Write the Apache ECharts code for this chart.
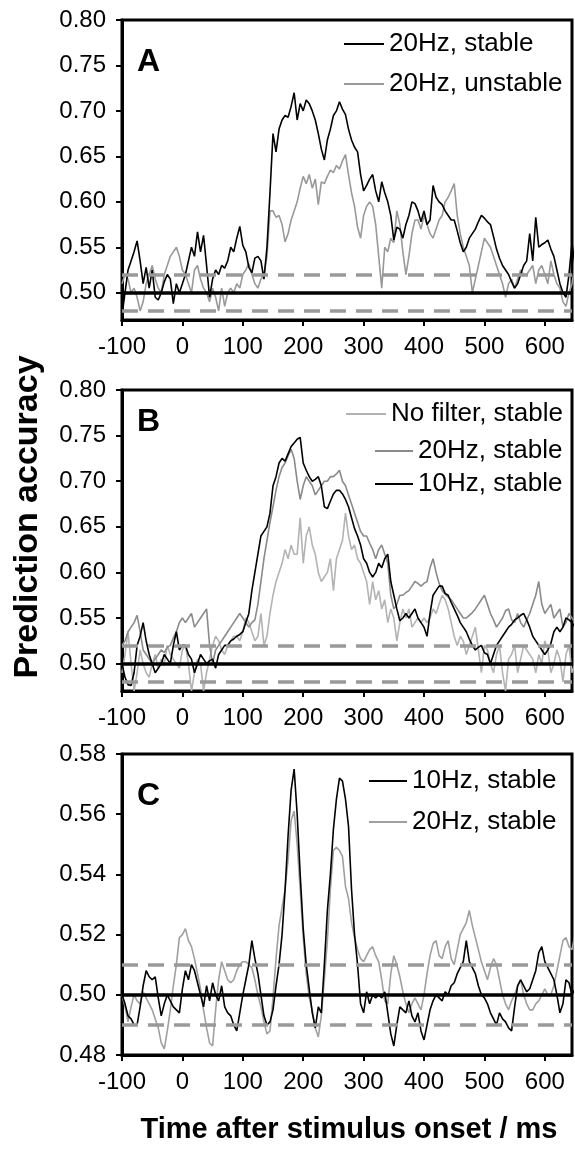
<!DOCTYPE html>
<html>
<head>
<meta charset="utf-8">
<script src="https://cdn.jsdelivr.net/npm/echarts@6/dist/echarts.min.js"></script>
<style>
html,body{margin:0;padding:0;background:#fff;}
#chart{width:575px;height:1153px;}
</style>
</head>
<body>
<div id="chart"></div>
<script>
// time axis (ms after stimulus onset)
var times = [-100,-95,-90,-85,-80,-75,-70,-65,-60,-55,-50,-45,-40,-35,-30,-25,-20,-15,-10,-5,
0,5,10,15,20,25,30,35,40,45,50,55,60,65,70,75,80,85,90,95,
100,105,110,115,120,125,130,135,140,145,150,155,160,165,170,175,180,185,190,195,
200,205,210,215,220,225,230,235,240,245,250,255,260,265,270,275,280,285,290,295,
300,305,310,315,320,325,330,335,340,345,350,355,360,365,370,375,380,385,390,395,
400,405,410,415,420,425,430,435,440,445,450,455,460,465,470,475,480,485,490,495,
500,505,510,515,520,525,530,535,540,545,550,555,560,565,570,575,580,585,590,595,
600,605,610,615,620,625,630,635,640,645,650];

// Panel A
var A_20Hz_stable = [0.475,0.50,0.525,0.535,0.545,0.557,0.535,0.51,0.528,0.505,
0.525,0.495,0.492,0.50,0.512,0.52,0.515,0.488,0.51,0.50,
0.51,0.52,0.535,0.55,0.54,0.567,0.545,0.563,0.53,0.495,
0.515,0.525,0.52,0.53,0.527,0.535,0.55,0.545,0.56,0.573,
0.552,0.545,0.528,0.522,0.538,0.54,0.535,0.515,0.55,0.61,
0.675,0.655,0.68,0.69,0.695,0.693,0.705,0.72,0.69,0.708,
0.70,0.712,0.708,0.70,0.69,0.675,0.658,0.646,0.668,0.68,
0.695,0.70,0.71,0.702,0.696,0.68,0.668,0.66,0.655,0.63,
0.612,0.618,0.625,0.63,0.612,0.60,0.622,0.61,0.60,0.585,
0.558,0.572,0.57,0.56,0.575,0.585,0.60,0.598,0.59,0.578,
0.59,0.575,0.58,0.618,0.605,0.60,0.597,0.59,0.585,0.58,
0.58,0.568,0.555,0.545,0.55,0.56,0.565,0.57,0.578,0.585,
0.582,0.578,0.575,0.562,0.548,0.538,0.53,0.525,0.52,0.512,
0.505,0.51,0.52,0.53,0.535,0.565,0.535,0.583,0.55,0.553,
0.555,0.558,0.548,0.54,0.525,0.51,0.50,0.495,0.52,0.555,
0.53];
var A_20Hz_unstable = [0.51,0.52,0.515,0.50,0.505,0.495,0.48,0.49,0.51,0.52,
0.53,0.515,0.505,0.50,0.52,0.53,0.54,0.545,0.55,0.54,
0.525,0.52,0.51,0.50,0.525,0.53,0.515,0.505,0.50,0.49,
0.505,0.495,0.48,0.505,0.485,0.50,0.505,0.50,0.51,0.505,
0.52,0.525,0.532,0.52,0.51,0.505,0.515,0.52,0.54,0.59,
0.59,0.583,0.585,0.575,0.556,0.565,0.58,0.59,0.60,0.615,
0.628,0.62,0.63,0.615,0.625,0.597,0.622,0.62,0.628,0.635,
0.632,0.64,0.636,0.645,0.652,0.63,0.61,0.595,0.572,0.56,
0.585,0.595,0.60,0.595,0.575,0.54,0.505,0.55,0.545,0.56,
0.555,0.59,0.575,0.545,0.52,0.54,0.565,0.58,0.58,0.57,
0.585,0.575,0.565,0.56,0.57,0.58,0.585,0.60,0.605,0.612,
0.62,0.585,0.565,0.55,0.54,0.53,0.50,0.515,0.53,0.545,
0.56,0.555,0.55,0.54,0.53,0.52,0.51,0.495,0.51,0.515,
0.505,0.515,0.525,0.52,0.52,0.525,0.53,0.51,0.525,0.53,
0.52,0.51,0.535,0.52,0.51,0.505,0.49,0.485,0.50,0.51,
0.53];

// Panel B
var B_nofilter_stable = [0.49,0.51,0.535,0.50,0.47,0.49,0.515,0.50,0.49,0.485,
0.50,0.51,0.495,0.505,0.50,0.52,0.51,0.505,0.50,0.495,
0.515,0.52,0.50,0.47,0.49,0.505,0.50,0.47,0.49,0.505,
0.52,0.53,0.525,0.515,0.51,0.52,0.525,0.53,0.53,0.525,
0.535,0.55,0.545,0.535,0.525,0.53,0.555,0.52,0.53,0.555,
0.575,0.59,0.60,0.61,0.625,0.615,0.63,0.62,0.62,0.66,
0.61,0.64,0.65,0.63,0.62,0.60,0.59,0.595,0.60,0.615,
0.58,0.615,0.625,0.635,0.665,0.64,0.625,0.63,0.615,0.61,
0.60,0.59,0.565,0.59,0.57,0.58,0.56,0.57,0.545,0.56,
0.55,0.525,0.545,0.56,0.55,0.56,0.54,0.545,0.55,0.545,
0.55,0.545,0.55,0.56,0.555,0.565,0.575,0.57,0.56,0.545,
0.53,0.52,0.53,0.525,0.51,0.52,0.53,0.54,0.515,0.49,
0.52,0.515,0.50,0.49,0.51,0.52,0.49,0.47,0.505,0.51,
0.52,0.49,0.505,0.52,0.515,0.51,0.505,0.49,0.51,0.50,
0.525,0.515,0.49,0.50,0.515,0.505,0.48,0.51,0.52,0.49,
0.50];
var B_20Hz_stable = [0.52,0.525,0.535,0.54,0.545,0.553,0.535,0.515,0.51,0.505,
0.50,0.505,0.51,0.515,0.512,0.518,0.52,0.528,0.535,0.545,
0.55,0.545,0.55,0.555,0.54,0.545,0.55,0.555,0.56,0.52,
0.50,0.515,0.52,0.525,0.53,0.535,0.54,0.545,0.55,0.555,
0.55,0.545,0.54,0.545,0.548,0.565,0.59,0.615,0.635,0.655,
0.672,0.69,0.705,0.715,0.72,0.728,0.735,0.725,0.70,0.68,
0.695,0.705,0.70,0.695,0.685,0.69,0.695,0.70,0.70,0.705,
0.705,0.708,0.712,0.70,0.695,0.685,0.675,0.665,0.655,0.645,
0.64,0.64,0.632,0.625,0.615,0.625,0.63,0.62,0.61,0.575,
0.56,0.565,0.575,0.575,0.578,0.58,0.585,0.59,0.588,0.585,
0.588,0.59,0.605,0.615,0.60,0.588,0.58,0.576,0.573,0.57,
0.565,0.56,0.555,0.55,0.55,0.553,0.556,0.56,0.565,0.57,
0.575,0.565,0.555,0.548,0.54,0.545,0.55,0.558,0.56,0.548,
0.545,0.555,0.545,0.54,0.548,0.555,0.565,0.575,0.59,0.565,
0.555,0.56,0.565,0.55,0.555,0.56,0.54,0.545,0.555,0.55,
0.545];
var B_10Hz_stable = [0.50,0.485,0.477,0.476,0.49,0.52,0.53,0.545,0.525,0.51,
0.50,0.49,0.495,0.50,0.51,0.505,0.50,0.52,0.535,0.515,
0.52,0.52,0.51,0.505,0.49,0.50,0.51,0.505,0.50,0.503,
0.505,0.495,0.51,0.515,0.52,0.52,0.525,0.527,0.53,0.532,
0.535,0.545,0.555,0.58,0.60,0.62,0.64,0.645,0.65,0.665,
0.695,0.705,0.72,0.725,0.722,0.73,0.738,0.742,0.746,0.748,
0.72,0.712,0.705,0.70,0.702,0.705,0.695,0.672,0.67,0.678,
0.686,0.69,0.69,0.686,0.68,0.672,0.66,0.648,0.64,0.63,
0.615,0.61,0.60,0.595,0.60,0.61,0.605,0.615,0.62,0.59,
0.575,0.56,0.547,0.55,0.555,0.55,0.555,0.56,0.55,0.545,
0.54,0.53,0.555,0.575,0.58,0.585,0.585,0.577,0.575,0.567,
0.56,0.553,0.545,0.54,0.535,0.527,0.52,0.515,0.518,0.52,
0.512,0.51,0.50,0.51,0.52,0.525,0.53,0.535,0.54,0.543,
0.548,0.55,0.553,0.555,0.548,0.54,0.53,0.525,0.52,0.515,
0.51,0.515,0.522,0.535,0.54,0.535,0.54,0.55,0.548,0.545,
0.54];

// Panel C
var C_10Hz_stable = [0.500,0.497,0.493,0.492,0.490,0.490,0.496,0.503,0.508,0.506,
0.505,0.506,0.499,0.493,0.497,0.500,0.498,0.496,0.495,0.494,
0.502,0.508,0.505,0.510,0.508,0.504,0.500,0.496,0.503,0.498,
0.504,0.500,0.498,0.503,0.496,0.494,0.493,0.490,0.488,0.494,
0.500,0.505,0.510,0.518,0.512,0.507,0.500,0.493,0.490,0.491,
0.495,0.503,0.510,0.520,0.535,0.553,0.568,0.575,0.560,0.540,
0.522,0.510,0.502,0.494,0.489,0.496,0.494,0.510,0.528,0.540,
0.555,0.565,0.572,0.571,0.565,0.556,0.535,0.520,0.510,0.497,
0.494,0.501,0.497,0.500,0.499,0.500,0.499,0.501,0.494,0.487,
0.483,0.490,0.496,0.495,0.494,0.498,0.493,0.491,0.494,0.488,
0.485,0.490,0.495,0.498,0.500,0.499,0.498,0.501,0.500,0.503,
0.504,0.507,0.509,0.511,0.518,0.511,0.509,0.507,0.503,0.500,
0.499,0.497,0.494,0.492,0.490,0.494,0.492,0.491,0.489,0.488,
0.496,0.503,0.505,0.503,0.501,0.502,0.505,0.508,0.514,0.516,
0.511,0.509,0.507,0.505,0.500,0.494,0.497,0.505,0.504,0.500,
0.502];
var C_20Hz_stable = [0.500,0.496,0.491,0.496,0.500,0.498,0.497,0.501,0.499,0.497,
0.495,0.492,0.489,0.484,0.482,0.488,0.495,0.503,0.510,0.519,
0.520,0.522,0.518,0.516,0.512,0.507,0.502,0.495,0.489,0.484,
0.483,0.495,0.505,0.511,0.508,0.505,0.504,0.505,0.508,0.510,
0.511,0.511,0.510,0.509,0.505,0.500,0.496,0.491,0.487,0.488,
0.499,0.512,0.523,0.529,0.535,0.545,0.558,0.561,0.550,0.535,
0.519,0.507,0.499,0.495,0.489,0.486,0.493,0.505,0.518,0.535,
0.548,0.549,0.548,0.546,0.536,0.532,0.524,0.519,0.515,0.512,
0.511,0.513,0.515,0.516,0.513,0.511,0.505,0.498,0.497,0.507,
0.513,0.510,0.506,0.501,0.497,0.494,0.497,0.499,0.497,0.495,
0.500,0.507,0.513,0.517,0.518,0.513,0.512,0.516,0.518,0.512,
0.510,0.515,0.520,0.522,0.524,0.528,0.523,0.519,0.515,0.511,
0.508,0.505,0.509,0.512,0.510,0.505,0.500,0.497,0.495,0.498,
0.500,0.503,0.505,0.500,0.497,0.495,0.495,0.497,0.498,0.500,
0.502,0.500,0.500,0.503,0.508,0.513,0.518,0.519,0.516,0.515,
0.520];

// reference levels
var chanceLevel = 0.5;
var thresholdsAB = [0.52, 0.48];
var thresholdsC = [0.51, 0.49];
var yTicksAB = [0.50, 0.55, 0.60, 0.65, 0.70, 0.75, 0.80];

function pairs(vals) {
  return times.map(function (t, i) { return [t, vals[i]]; });
}

var FONT = '"Liberation Sans", Arial, Helvetica, sans-serif';
var GRID_LEFT = 122, GRID_W = 450;
var grids = [
  {left: GRID_LEFT, top: 20, width: GRID_W, height: 300},
  {left: GRID_LEFT, top: 390, width: GRID_W, height: 301},
  {left: GRID_LEFT, top: 754, width: GRID_W, height: 301}
].map(function (g) {
  g.show = true; g.borderColor = '#000'; g.borderWidth = 3; g.containLabel = false;
  return g;
});

function xAxisFor(i) {
  return {
    gridIndex: i, type: 'value', min: -100, max: 645, interval: 100,
    axisLine: {show: true, onZero: false, lineStyle: {color: '#000', width: 3}},
    axisTick: {show: true, inside: false, length: 6, lineStyle: {color: '#000', width: 2}},
    axisLabel: {color: '#000', fontSize: 24, fontFamily: FONT, margin: 15, showMaxLabel: false},
    splitLine: {show: false}
  };
}
function yAxisFor(i, min, max, ticks) {
  return {
    gridIndex: i, type: 'value', min: min, max: max,
    axisLine: {show: true, onZero: false, lineStyle: {color: '#000', width: 3}},
    axisTick: {show: true, inside: false, length: 6, lineStyle: {color: '#000', width: 2}, customValues: ticks},
    axisLabel: {color: '#000', fontSize: 24, fontFamily: FONT, margin: 16, customValues: ticks,
      formatter: function (v) { return v.toFixed(2); }},
    splitLine: {show: false}
  };
}

function refLines(th) {
  return {
    silent: true, symbol: 'none', animation: false,
    label: {show: false},
    data: [
      {yAxis: chanceLevel, lineStyle: {color: '#000', width: 3.5, type: 'solid'}},
      {yAxis: th[0], lineStyle: {color: '#999', width: 3.5, type: [16, 10]}},
      {yAxis: th[1], lineStyle: {color: '#999', width: 3.5, type: [16, 10]}}
    ]
  };
}

function lineSeries(name, idx, vals, color, ml) {
  var s = {
    name: name, type: 'line', xAxisIndex: idx, yAxisIndex: idx,
    data: pairs(vals), symbol: 'none', showSymbol: false,
    lineStyle: {color: color, width: 1.6}, itemStyle: {color: color},
    clip: true, animation: false
  };
  if (ml) s.markLine = ml;
  return s;
}

function leg(name, left, cy, w) {
  return {
    orient: 'vertical', selectedMode: false, icon: 'rect',
    itemWidth: w, itemHeight: 1.8, itemGap: 6, padding: 0,
    textStyle: {color: '#000', fontSize: 26, fontFamily: FONT},
    formatter: function (n) { return n.split('|')[1]; },
    data: [name], left: left, top: cy - 14
  };
}

var titleStyle = {fontSize: 32, fontWeight: 'bold', color: '#000', fontFamily: FONT};

var option = {
  backgroundColor: '#fff',
  animation: false,
  grid: grids,
  xAxis: [xAxisFor(0), xAxisFor(1), xAxisFor(2)],
  yAxis: [
    yAxisFor(0, 0.47, 0.80, yTicksAB),
    yAxisFor(1, 0.47, 0.80, yTicksAB),
    Object.assign(yAxisFor(2, 0.48, 0.58, undefined), {interval: 0.02})
  ],
  legend: [
    leg('A|20Hz, stable', 344, 45, 40),
    leg('A|20Hz, unstable', 344, 85, 40),
    leg('B|No filter, stable', 346, 415, 40),
    leg('B|20Hz, stable', 375, 452, 38),
    leg('B|10Hz, stable', 375, 485, 38),
    leg('C|10Hz, stable', 369, 782, 38),
    leg('C|20Hz, stable', 369, 823, 38)
  ],
  title: [
    {text: 'A', left: 137, top: 46, padding: 0, textStyle: titleStyle},
    {text: 'B', left: 137, top: 406, padding: 0, textStyle: titleStyle},
    {text: 'C', left: 137, top: 780, padding: 0, textStyle: titleStyle}
  ],
  graphic: [
    {type: 'text', x: 28, y: 517, rotation: Math.PI / 2,
      style: {text: 'Prediction accuracy', fill: '#000', font: 'bold 34px ' + FONT, textAlign: 'center', textVerticalAlign: 'middle'}},
    {type: 'text', x: 349, y: 1130,
      style: {text: 'Time after stimulus onset / ms', fill: '#000', font: 'bold 29px ' + FONT, textAlign: 'center', textVerticalAlign: 'middle'}}
  ],
  series: [
    lineSeries('A|20Hz, unstable', 0, A_20Hz_unstable, '#999999', refLines(thresholdsAB)),
    lineSeries('A|20Hz, stable', 0, A_20Hz_stable, '#000000'),
    lineSeries('B|No filter, stable', 1, B_nofilter_stable, '#b3b3b3', refLines(thresholdsAB)),
    lineSeries('B|20Hz, stable', 1, B_20Hz_stable, '#8a8a8a'),
    lineSeries('B|10Hz, stable', 1, B_10Hz_stable, '#000000'),
    lineSeries('C|20Hz, stable', 2, C_20Hz_stable, '#a0a0a0', refLines(thresholdsC)),
    lineSeries('C|10Hz, stable', 2, C_10Hz_stable, '#000000')
  ]
};

var chart = echarts.init(document.getElementById('chart'), null, {renderer: 'canvas'});
chart.setOption(option);
</script>
</body>
</html>
